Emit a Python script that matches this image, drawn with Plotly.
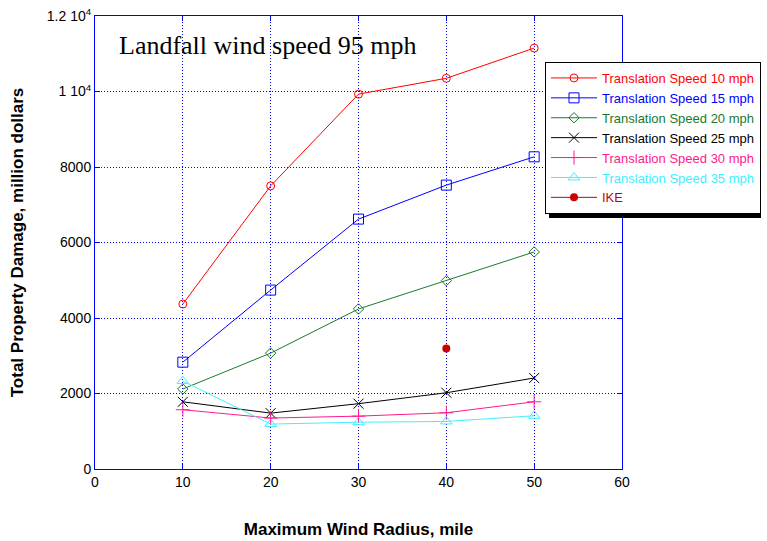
import plotly.graph_objects as go

radius = [10, 20, 30, 40, 50]
speed10 = [4370, 7500, 9930, 10350, 11150]
speed15 = [2830, 4740, 6620, 7520, 8270]
speed20 = [2120, 3070, 4240, 4990, 5750]
speed25 = [1780, 1480, 1730, 2020, 2410]
speed30 = [1570, 1350, 1400, 1490, 1780]
speed35 = [2330, 1190, 1240, 1260, 1410]
ike_x = [40]
ike_y = [3190]

series = [
    ("Translation Speed 10 mph", speed10, "#ff0000", "circle-open", 8),
    ("Translation Speed 15 mph", speed15, "#0000ff", "square-open", 10),
    ("Translation Speed 20 mph", speed20, "#1a7a2a", "diamond-open", 8),
    ("Translation Speed 25 mph", speed25, "#000000", "x-thin-open", 10),
    ("Translation Speed 30 mph", speed30, "#ff1a8c", "cross-thin-open", 10),
    ("Translation Speed 35 mph", speed35, "#44eeff", "triangle-up-open", 10),
]

fig = go.Figure()
for name, ys, col, sym, sz in series:
    fig.add_trace(go.Scatter(
        x=radius, y=ys, mode="lines+markers",
        name=f"<span style='color:{col}'>{name}</span>",
        line=dict(color=col, width=1),
        marker=dict(symbol=sym, size=sz, color=col, line=dict(color=col, width=1)),
    ))
fig.add_trace(go.Scatter(
    x=ike_x, y=ike_y, mode="lines+markers",
    name="<span style='color:#cc0000'>IKE</span>",
    line=dict(color="#cc0000", width=1),
    marker=dict(symbol="circle", size=8, color="#cc0000"),
))

axis_common = dict(
    showline=True, linecolor="#0000ff", linewidth=1, mirror="ticks",
    ticks="inside", ticklen=5, tickcolor="#0000ff", automargin=False,
    showgrid=True, gridcolor="#0000ff", griddash="1px,2px", gridwidth=1,
    zeroline=False, tickfont=dict(family="Arial, Liberation Sans", size=14, color="black"),
)

L, R, T, B = 95, 145, 16, 72
PW, PH = 767 - L - R, 541 - T - B


def px_x(p):
    return (p - L) / PW


def px_y(p):
    return (541 - B - p) / PH


fig.update_layout(
    width=767, height=541,
    margin=dict(l=L, r=R, t=T, b=B, autoexpand=False),
    plot_bgcolor="white", paper_bgcolor="white",
    xaxis=dict(range=[0, 60], tickvals=[0, 10, 20, 30, 40, 50, 60],
               title=dict(text="<b>Maximum Wind Radius, mile</b>", standoff=34,
                          font=dict(family="Arial, Liberation Sans", size=17, color="black")),
               **axis_common),
    yaxis=dict(range=[0, 12000], tickvals=[0, 2000, 4000, 6000, 8000, 10000, 12000],
               ticktext=["0", "2000", "4000", "6000", "8000", "1 10<sup>4</sup>", "1.2 10<sup>4</sup>"],
               title=dict(text="<b>Total Property Damage, million dollars</b>", standoff=18,
                          font=dict(family="Arial, Liberation Sans", size=17, color="black")),
               **axis_common),
    showlegend=True,
    legend=dict(x=px_x(545), y=px_y(62), xanchor="left", yanchor="top",
                bgcolor="white", bordercolor="black", borderwidth=1,
                font=dict(family="Arial, Liberation Sans", size=13),
                itemwidth=46, tracegroupgap=0),
    shapes=[dict(type="rect", xref="paper", yref="paper",
                 x0=px_x(549), x1=px_x(761), y0=px_y(218), y1=px_y(66),
                 fillcolor="black", line=dict(width=0), layer="above")],
    annotations=[dict(text="Landfall wind speed 95 mph", xref="paper", yref="paper",
                      x=px_x(117), y=px_y(45), xanchor="left", yanchor="middle", showarrow=False,
                      font=dict(family="Liberation Serif, Times New Roman", size=26, color="black"))],
)

fig.write_html("out.html", post_script="document.body.style.margin='0';",
               config={"displayModeBar": False})
